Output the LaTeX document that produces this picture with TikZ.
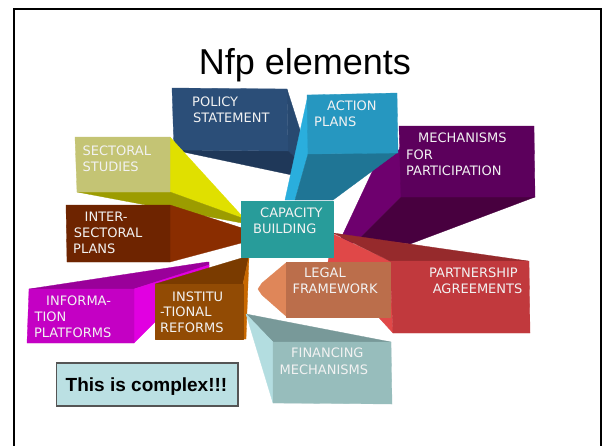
\documentclass[tikz,border=0pt]{standalone}
\usepackage{fontspec}
\setmainfont{Liberation Sans}
\newfontfamily\lblfont{DejaVu Sans}
\definecolor{polFront}{HTML}{2B4E78}
\definecolor{polRight}{HTML}{284970}
\definecolor{polBot}{HTML}{1F3859}
\definecolor{actFront}{HTML}{2697C0}
\definecolor{actLeft}{HTML}{2AAEDD}
\definecolor{actBot}{HTML}{1F7595}
\definecolor{mecFront}{HTML}{5C005C}
\definecolor{mecLeft}{HTML}{6E006E}
\definecolor{mecBot}{HTML}{48003F}
\definecolor{secFront}{HTML}{C4C474}
\definecolor{secRight}{HTML}{E0E000}
\definecolor{secBot}{HTML}{9C9C00}
\definecolor{intFront}{HTML}{6E2400}
\definecolor{intRight}{HTML}{8A2D00}
\definecolor{capFront}{HTML}{289C9A}
\definecolor{parFront}{HTML}{C1393D}
\definecolor{parTop}{HTML}{962A2C}
\definecolor{parLeft}{HTML}{E04848}
\definecolor{legFront}{HTML}{BB6E4B}
\definecolor{legLeft}{HTML}{DF8659}
\definecolor{finFront}{HTML}{97BDBC}
\definecolor{finTop}{HTML}{789999}
\definecolor{finLeft}{HTML}{B3DDE0}
\definecolor{insFront}{HTML}{924B04}
\definecolor{insTop}{HTML}{7A3B00}
\definecolor{insRight}{HTML}{C86800}
\definecolor{infFront}{HTML}{C400C4}
\definecolor{infTop}{HTML}{9A009A}
\definecolor{infRight}{HTML}{E100E1}
\definecolor{lblText}{HTML}{F2F2F2}
\definecolor{boxFill}{HTML}{BBE0E3}
\definecolor{boxLine}{HTML}{555555}
\tikzset{
  face/.style={fill=#1, draw=#1, line width=0.3pt, line join=round},
  lbl/.style={anchor=base west, inner sep=0pt, text=lblText, font=\lblfont\fontsize{13}{13}\selectfont},
}
\begin{document}
\begin{tikzpicture}[x=1pt,y=-1pt]
\useasboundingbox (0,0) rectangle (602,445);
\fill[white] (0,0) rectangle (602,445);
\begin{scope}
\clip (0,0) rectangle (602,445);
\draw[line width=2pt] (13.5,460) -- (13.5,8.5) -- (601,8.5) -- (601,460);
\end{scope}
% title
\node[anchor=base, inner sep=0pt, font=\fontsize{36}{36}\selectfont] (title) at (305,74) {Nfp elements};
% mechanisms
\path[face=mecLeft] (401,148) -- (373,170) -- (343,234) -- (329,261) -- (360,238) -- (401,197) -- cycle;
\path[face=mecBot] (401,197) -- (535,197) -- (410,244) -- (360,238) -- cycle;
\path[face=mecFront] (399,126) -- (534,126) -- (535,197) -- (401,197) -- cycle;
% policy
\path[face=polRight] (287,89) -- (300,130) -- (300,162) -- (288,151) -- cycle;
\path[face=polBot] (174,150) -- (288,151) -- (300,162) -- (292,175) -- cycle;
\path[face=polFront] (172,88) -- (287,89) -- (288,151) -- (174,150) -- cycle;
% action
\path[face=actLeft] (308,95) -- (308,154) -- (295,200) -- (285,200) -- cycle;
\path[face=actBot] (308,154) -- (398,152) -- (333,200) -- (295,200) -- cycle;
\path[face=actFront] (307,95) -- (397,93) -- (398,153) -- (308,154) -- cycle;
% sectoral studies
\path[face=secRight] (170,137) -- (242,216) -- (242,218) -- (170,192) -- cycle;
\path[face=secBot] (77,192) -- (170,192) -- (242,218) -- (242,223) -- cycle;
\path[face=secFront] (75,137) -- (170,137) -- (170,192) -- (77,192) -- cycle;
% inter-sectoral
\path[face=intRight] (170,205) -- (245,229) -- (245,242) -- (170,262) -- cycle;
\path[face=intFront] (66,205) -- (170,205) -- (170,262) -- (67,262) -- cycle;
% partnership
\path[face=parLeft] (333,234) -- (390,261) -- (393,333) -- (328,262) -- cycle;
\path[face=parTop] (333,233) -- (528,261) -- (390,261) -- cycle;
\path[face=parFront] (390,261) -- (529,261) -- (530,333) -- (393,333) -- cycle;
% information
\path[face=infTop] (29,289) -- (207,262) -- (209,262) -- (209,266) -- (134,289) -- cycle;
\path[face=infRight] (134,289) -- (209,265) -- (209,268) -- (134,343) -- cycle;
\path[face=infFront] (29,289) -- (134,289) -- (134,343) -- (27,343) -- cycle;
% institutional
\path[face=insTop] (155,284) -- (245,257) -- (249,256) -- (243,284) -- cycle;
\path[face=insRight] (243,284) -- (249,256) -- (246,339) -- (243,339) -- cycle;
\path[face=insFront] (155,284) -- (243,284) -- (243,339) -- (155,339) -- cycle;
% financing
\path[face=finTop] (246,314) -- (391,342) -- (273,342) -- cycle;
\path[face=finLeft] (246,314) -- (273,342) -- (273,403) -- cycle;
\path[face=finFront] (273,342) -- (391,342) -- (392,404) -- (273,403) -- cycle;
% legal
\path[face=legLeft] (287,262) -- (262,283) -- (258,289) -- (262,295) -- (287,317) -- cycle;
\path[face=legFront] (286,262) -- (390,262) -- (390,317) -- (286,317) -- cycle;
% capacity
\path[face=capFront] (241,201) -- (333,201) -- (333,257) -- (241,257) -- cycle;
% labels
\node[lbl] (pol1) at (192,106) {POLICY};
\node[lbl] (pol2) at (193,122) {STATEMENT};
\node[lbl] (act1) at (327,110.7) {ACTION};
\node[lbl] (act2) at (314,126.7) {PLANS};
\node[lbl] (mec1) at (418,142.7) {MECHANISMS};
\node[lbl] (mec2) at (406,159) {FOR};
\node[lbl] (mec3) at (406,175) {PARTICIPATION};
\node[lbl] (sec1) at (82.5,155) {SECTORAL};
\node[lbl] (sec2) at (82.5,171) {STUDIES};
\node[lbl] (cap1) at (260,217) {CAPACITY};
\node[lbl] (cap2) at (253,233) {BUILDING};
\node[lbl] (int1) at (84.5,221.7) {INTER-};
\node[lbl] (int2) at (73.7,237.7) {SECTORAL};
\node[lbl] (int3) at (73,253) {PLANS};
\node[lbl] (leg1) at (304,277.7) {LEGAL};
\node[lbl] (leg2) at (292.5,293.3) {FRAMEWORK};
\node[lbl] (par1) at (429,277.7) {PARTNERSHIP};
\node[lbl] (par2) at (432.6,293.3) {AGREEMENTS};
\node[lbl] (inf1) at (46,305.7) {INFORMA-};
\node[lbl] (inf2) at (34.5,321.7) {TION};
\node[lbl] (inf3) at (33.8,337.3) {PLATFORMS};
\node[lbl] (ins1) at (172,301) {INSTITU};
\node[lbl] (ins2) at (160,316.7) {-TIONAL};
\node[lbl] (ins3) at (160,332.3) {REFORMS};
\node[lbl] (fin1) at (291,357.7) {FINANCING};
\node[lbl] (fin2) at (279.5,374.3) {MECHANISMS};
% complex box
\path[fill=boxFill, draw=boxLine, line width=1.3pt] (56.5,363) rectangle (238,406);
\node[anchor=base, inner sep=0pt, font=\bfseries\fontsize{19}{19}\selectfont] (cx) at (146.5,391.5) {This is complex!!!};
\end{tikzpicture}
\end{document}
